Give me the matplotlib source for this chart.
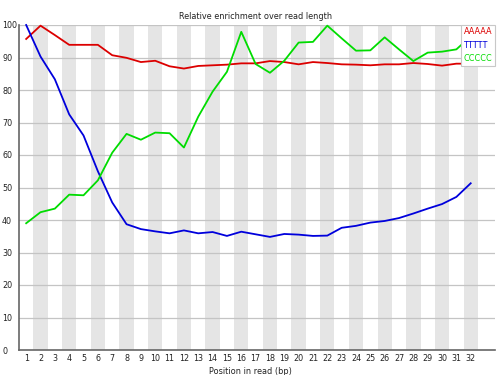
import matplotlib
matplotlib.use("Agg")
import matplotlib.pyplot as plt
from matplotlib.lines import Line2D

positions = list(range(1, 33))
kmer_labels = ["AAAAA", "TTTTT", "CCCCC"]
aaaaa = [95.7, 99.8, 96.9, 93.9, 93.9, 93.9, 90.7, 89.9, 88.6, 89.0, 87.3, 86.6,
         87.4, 87.6, 87.8, 88.2, 88.2, 88.9, 88.6, 87.9, 88.6, 88.3, 87.9, 87.8,
         87.6, 87.9, 87.9, 88.3, 88.0, 87.5, 88.1, 88.1]
ttttt = [100.0, 90.3, 83.3, 72.5, 66.0, 55.0, 45.4, 38.7, 37.2, 36.5, 35.9, 36.8,
         35.9, 36.3, 35.1, 36.4, 35.6, 34.8, 35.7, 35.5, 35.1, 35.2, 37.6, 38.2,
         39.2, 39.7, 40.6, 42.0, 43.5, 44.9, 47.1, 51.3]
ccccc = [39.0, 42.4, 43.5, 47.8, 47.6, 52.2, 60.7, 66.5, 64.7, 66.9, 66.7, 62.3,
         71.8, 79.5, 85.6, 97.9, 88.0, 85.3, 89.0, 94.6, 94.8, 99.8, 95.9, 92.1,
         92.2, 96.2, 92.5, 88.9, 91.5, 91.8, 92.5, 96.5]
yticks = list(range(0, 101, 10))

colors = ["#dc0000", "#0000dc", "#00dc00"]
series = [aaaaa, ttttt, ccccc]

plt.rcParams['font.family'] = ['DejaVu Sans']
fig = plt.figure(figsize=(5, 3.75), dpi=100)
W, H = 500, 375
x0, x1, ytop, ybot = 19, 495, 25, 350
ax = fig.add_axes([x0 / W, (H - ybot) / H, (x1 - x0) / W, (ybot - ytop) / H])

bandw = 14.34
xmax = 0.5 + (x1 - x0) / bandw
ax.set_xlim(0.5, xmax)
ax.set_ylim(0, 100)

# alternating bands
for p in positions:
    if p % 2 == 0:
        ax.axvspan(p - 0.5, p + 0.5, color="#e5e5e5", lw=0, zorder=0)

for y in yticks[1:]:
    ax.axhline(y, color="#c4c4c4", lw=0.9, zorder=1)

for vals, c, lab in zip(series, colors, kmer_labels):
    ax.plot(positions, vals, color=c, lw=1.3, label=lab, zorder=3, clip_on=False)

for s in ["top", "right"]:
    ax.spines[s].set_visible(False)
ax.spines["left"].set_color("#666666")
ax.spines["bottom"].set_color("#666666")
ax.spines["left"].set_linewidth(1.2)
ax.spines["bottom"].set_linewidth(1.2)

ax.set_xticks(positions)
ax.set_xticklabels([str(p) for p in positions], fontsize=5.8, color="#222222")
ax.tick_params(axis="x", length=0, pad=3)
ax.set_yticks(yticks)
ax.set_yticklabels([str(y) for y in yticks], fontsize=5.8, color="#222222")
ax.tick_params(axis="y", length=0, pad=12.2)
for t in ax.get_yticklabels():
    t.set_horizontalalignment("left")

ax.set_title("Relative enrichment over read length", fontsize=5.9,
             x=(255.5 - x0) / (x1 - x0), pad=4.5, color="#222222")
ax.set_xlabel("Position in read (bp)", fontsize=5.9, x=(250 - x0) / (x1 - x0),
              labelpad=3, color="#222222")

handles = [Line2D([], [], color=c, lw=0) for c in colors]
leg = ax.legend(handles, kmer_labels, loc="upper right", bbox_to_anchor=(1.0, 1.0),
                borderaxespad=0, handlelength=0, handletextpad=0, fancybox=False,
                framealpha=1, edgecolor="#c8c8c8", fontsize=5.9, labelcolor=colors,
                labelspacing=0.55, borderpad=0.3)
leg.get_frame().set_linewidth(0.8)
leg.set_zorder(5)

fig.savefig("out.png", dpi=100)
